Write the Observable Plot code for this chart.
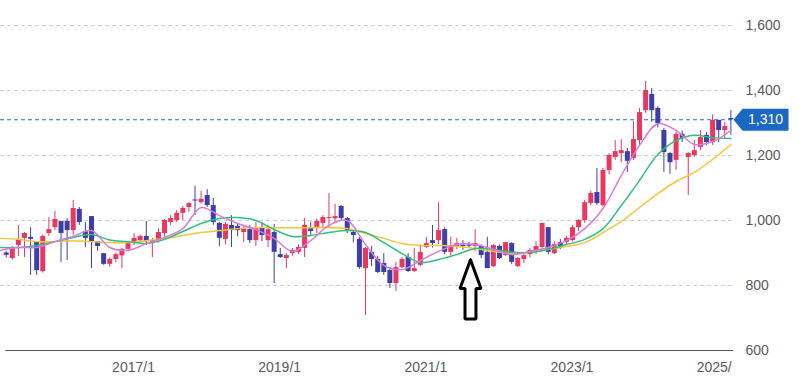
<!DOCTYPE html>
<html><head><meta charset="utf-8">
<script src="https://cdn.jsdelivr.net/npm/d3@7"></script>
<script src="https://cdn.jsdelivr.net/npm/@observablehq/plot@0.6"></script>
<style>body{margin:0;background:#fff;}</style>
</head><body><div id="chart"></div>
<script>
// Monthly candles, first candle = 2015/4, index 0 .. 119 (2025/3)
const open = [
900, 883, 923, 945, 948, 932, 843, 960, 978, 997,
997, 969, 1034, 966, 1012, 935, 898, 865, 880, 891,
911, 932, 938, 951, 929, 938, 960, 994, 1000, 1022,
1040, 1063, 1055, 1077, 1046, 991, 942, 985, 982, 963,
972, 938, 978, 938, 963, 895, 883, 898, 902, 914,
975, 975, 991, 1006, 1005, 1043, 1006, 963, 942, 852,
902, 880, 868, 846, 806, 855, 886, 843, 862, 917,
938, 938, 972, 902, 920, 924, 925, 920, 920, 902,
858, 920, 892, 929, 858, 880, 895, 905, 917, 978,
898, 932, 932, 938, 978, 1000, 1052, 1086, 1046, 1154,
1194, 1206, 1212, 1191, 1246, 1338, 1388, 1345, 1277, 1206,
1185, 1265, 1194, 1200, 1225, 1262, 1240, 1308, 1277, 1314];
const high = [
905, 920, 985, 963, 978, 932, 955, 1009, 1028, 997,
1006, 1062, 1040, 994, 1012, 935, 898, 885, 900, 914,
935, 960, 955, 997, 945, 975, 1003, 1015, 1031, 1043,
1055, 1105, 1090, 1095, 1068, 994, 994, 1015, 990, 985,
985, 994, 994, 985, 988, 914, 898, 914, 925, 1006,
995, 1005, 1015, 1083, 1050, 1046, 1009, 969, 948, 917,
920, 890, 898, 855, 871, 886, 898, 914, 925, 948,
985, 1055, 978, 948, 945, 938, 932, 972, 925, 948,
926, 925, 932, 932, 886, 900, 914, 935, 991, 978,
935, 942, 951, 985, 1003, 1062, 1090, 1160, 1160, 1206,
1246, 1249, 1222, 1305, 1345, 1428, 1406, 1350, 1283, 1209,
1271, 1275, 1209, 1246, 1277, 1271, 1325, 1308, 1302, 1338];
const low = [
885, 878, 889, 886, 831, 831, 838, 951, 969, 871,
877, 954, 985, 917, 852, 905, 862, 856, 870, 852,
905, 923, 930, 923, 886, 930, 948, 985, 994, 1000,
1025, 1015, 1050, 1040, 985, 920, 925, 917, 950, 932,
929, 920, 935, 917, 806, 883, 852, 890, 895, 886,
955, 960, 975, 975, 990, 1000, 960, 931, 850, 708,
858, 837, 831, 791, 782, 852, 840, 840, 858, 914,
915, 926, 895, 890, 910, 908, 915, 905, 883, 852,
855, 880, 890, 864, 855, 868, 885, 895, 905, 895,
895, 910, 923, 935, 966, 991, 1045, 1046, 1040, 1140,
1185, 1178, 1148, 1185, 1230, 1330, 1302, 1285, 1148, 1142,
1155, 1240, 1077, 1194, 1215, 1231, 1231, 1240, 1249, 1262];
const close = [
893, 914, 942, 960, 942, 846, 951, 972, 1003, 960,
969, 1037, 994, 945, 935, 920, 865, 880, 895, 911,
929, 945, 951, 935, 938, 963, 1000, 1006, 1022, 1037,
1052, 1060, 1065, 1046, 994, 945, 988, 969, 969, 975,
938, 975, 954, 972, 902, 886, 892, 908, 917, 985,
966, 997, 1009, 1009, 1012, 1006, 969, 954, 855, 914,
880, 840, 840, 806, 855, 880, 843, 852, 902, 929,
929, 969, 902, 923, 929, 920, 921, 929, 892, 852,
923, 883, 932, 871, 883, 892, 908, 920, 991, 902,
926, 920, 945, 978, 1000, 1055, 1083, 1052, 1154, 1200,
1212, 1215, 1182, 1249, 1332, 1400, 1338, 1298, 1209, 1178,
1265, 1252, 1206, 1215, 1255, 1240, 1308, 1277, 1289, 1310];

// Moving averages read at candle indices
const maIndex = [-1, 2, 5, 8, 11, 14, 17, 20, 23, 26, 29, 32, 35, 38, 41, 44, 47, 50, 53, 56, 59,
  62, 65, 68, 71, 74, 77, 80, 83, 86, 89, 92, 95, 98, 101, 104, 107, 110, 113, 116, 119];
const maShort = [908, 917, 917, 935, 951, 969, 917, 908, 929, 948, 975, 1040, 1015, 991, 972, 945, 905, 938, 985, 1000, 926,
  862, 849, 877, 905, 926, 926, 911, 895, 905, 917, 938, 975, 1037, 1138, 1231, 1298, 1277, 1234, 1243, 1277];
const maMid = [917, 917, 923, 935, 948, 957, 940, 935, 929, 942, 966, 991, 1006, 1009, 1000, 972, 951, 954, 963, 969, 963,
  932, 898, 871, 880, 895, 914, 911, 902, 902, 911, 926, 942, 975, 1046, 1123, 1203, 1246, 1262, 1255, 1252];
const maLong = [945, 942, 935, 935, 938, 935, 932, 932, 938, 945, 954, 963, 969, 975, 978, 978, 978, 978, 978, 975, 960,
  945, 929, 923, 923, 920, 914, 905, 898, 902, 911, 920, 932, 963, 997, 1040, 1083, 1120, 1148, 1188, 1234];

const yTicks = [600, 800, 1000, 1200, 1400, 1600];
const gridValues = [800, 1000, 1200, 1400, 1600];
const xTickIndex = [21, 45, 69, 93, 117];
const xTickLabels = ["2017/1", "2019/1", "2021/1", "2023/1", "2025/"];
const lastPrice = 1310;

// annotation arrow outline (month index, price)
const arrowX = [76.24, 77.96, 77.14, 77.14, 75.34, 75.34, 74.52, 76.24];
const arrowY = [879, 791, 791, 697, 697, 791, 791, 879];

const xDomain = [-0.94, 119.43];
const candles = open.map((o, i) => ({i, open: o, high: high[i], low: low[i], close: close[i]}));
const up = candles.filter(d => d.close >= d.open);
const down = candles.filter(d => d.close < d.open);
const ma = (vals) => maIndex.map((i, k) => ({i, v: vals[k]}));
const arrow = arrowX.map((x, k) => ({x, y: arrowY[k]}));

const UP = "#e8385f", DOWN = "#3d3ea8";
const badge = {draw(ctx) { ctx.moveTo(0, 0); ctx.lineTo(9, -11); ctx.lineTo(55, -11); ctx.lineTo(55, 11); ctx.lineTo(9, 11); ctx.closePath(); }};

const chart = Plot.plot({
  width: 803, height: 386,
  marginLeft: 0, marginRight: 70, marginTop: 25, marginBottom: 36,
  style: {fontFamily: "'Liberation Sans', Arial, sans-serif", fontSize: "14px", background: "#fff", overflow: "visible"},
  x: {domain: xDomain, axis: null},
  y: {domain: [600, 1600], axis: null},
  marks: [
    Plot.ruleY(gridValues, {stroke: "#cfcfcf", strokeDasharray: "4,3", strokeWidth: 1}),
    Plot.ruleY([600], {x1: -0.05, x2: xDomain[1], stroke: "#555", strokeWidth: 1.2}),
    Plot.ruleY([lastPrice], {stroke: "#2f6cc0", strokeDasharray: "4,3", strokeWidth: 1}),
    Plot.line(arrow, {x: "x", y: "y", stroke: "#000", fill: "#fff", strokeWidth: 3, strokeLinejoin: "miter"}),
    Plot.ruleX(up, {x: "i", y1: "low", y2: "high", stroke: UP, strokeWidth: 1}),
    Plot.ruleX(down, {x: "i", y1: "low", y2: "high", stroke: DOWN, strokeWidth: 1}),
    Plot.ruleX(up, {x: "i", y1: "open", y2: "close", stroke: UP, strokeWidth: 5}),
    Plot.ruleX(down, {x: "i", y1: "open", y2: "close", stroke: DOWN, strokeWidth: 5}),
    Plot.line(ma(maLong), {x: "i", y: "v", stroke: "#f2c53a", strokeWidth: 1.5, curve: "catmull-rom"}),
    Plot.line(ma(maMid), {x: "i", y: "v", stroke: "#30bf7c", strokeWidth: 1.5, curve: "catmull-rom"}),
    Plot.line(ma(maShort), {x: "i", y: "v", stroke: "#d97ade", strokeWidth: 1.5, curve: "catmull-rom"}),
    Plot.dot([lastPrice], {x: () => xDomain[1], y: d => d, symbol: badge, fill: "#1b68c2", stroke: "none", r: 5}),
    Plot.text([lastPrice], {x: () => xDomain[1], y: d => d, text: d => d3.format(",")(d), dx: 32, fill: "#fff", fontSize: 14, textAnchor: "middle"}),
    Plot.text(yTicks, {x: () => xDomain[1], y: d => d, text: d => d3.format(",")(d), dx: 12, textAnchor: "start", fill: "#5a5a5a", fontSize: 14}),
    Plot.text(xTickIndex, {x: d => d, y: () => 600, text: (d, k) => xTickLabels[k], dy: 17, dx: -22, textAnchor: "start", fill: "#5a5a5a", fontSize: 14})
  ]
});
document.getElementById("chart").appendChild(chart);
</script>
</body></html>
